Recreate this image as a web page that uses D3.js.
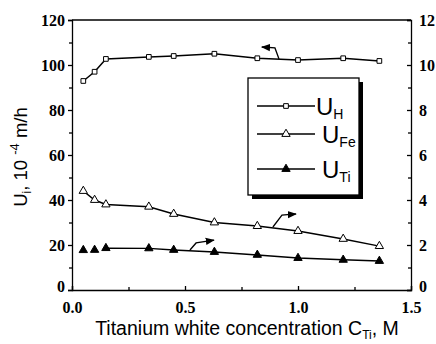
<!DOCTYPE html>
<html><head><meta charset="utf-8">
<script src="https://cdn.jsdelivr.net/npm/d3@7"></script>
<style>body{margin:0;background:#fff}svg{display:block}</style>
</head><body>
<script>
const conc = [0.05, 0.10, 0.15, 0.34, 0.45, 0.63, 0.82, 1.00, 1.20, 1.36];
const uH  = [92.9, 97, 102.7, 103.6, 104, 105, 103, 102.2, 103, 101.8];
const uFe = [44, 40, 38, 37, 33.8, 30, 28.4, 26.2, 22.7, 19.5];
const uTi = [17.7, 17.8, 18.6, 18.5, 17.8, 16.9, 15.6, 14.2, 13.4, 12.9];
const xTicks = [0, 0.5, 1.0, 1.5];
const yTicks = [0, 20, 40, 60, 80, 100, 120];
const y2Ticks = [0, 2, 4, 6, 8, 10, 12];
// annotation arrows (data coords: base, elbow, tip)
const arrowH  = [[0.916, 102.7], [0.898, 107.6], [0.84, 108]];
const arrowFe = [[0.889, 28], [0.929, 33.3], [0.991, 33.8]];
const arrowTi = [[0.522, 17.8], [0.549, 20.9], [0.628, 22.2]];

const W = 436, H = 344;
const m = {l: 72, r: 25, t: 20, b: 54};
const svg = d3.select("body").append("svg").attr("width", W).attr("height", H);
const x = d3.scaleLinear().domain([0, 1.5]).range([m.l, W - m.r]);
const y = d3.scaleLinear().domain([0, 120]).range([H - m.b, m.t]);
const y2 = d3.scaleLinear().domain([0, 12]).range([H - m.b, m.t]);

svg.append("defs").append("marker").attr("id", "ah").attr("viewBox", "0 0 10 10")
  .attr("refX", 9).attr("refY", 5).attr("markerWidth", 7).attr("markerHeight", 7)
  .attr("orient", "auto").append("path").attr("d", "M0,1L10,5L0,9z").attr("fill", "#000");

const tickFont = g => g.selectAll("text").attr("font-family", "'Liberation Serif','Times New Roman',serif")
  .attr("font-weight", "bold").attr("font-size", 16).attr("fill", "#000");
const stroke = g => { g.selectAll("line,path").attr("stroke", "#000").attr("stroke-width", 1.3); };

// minor ticks
const xMinor = d3.range(0.25, 1.5, 0.5);
const yMinor = d3.range(10, 120, 20);
const y2Minor = d3.range(1, 12, 2);

// bottom axis
const gx = svg.append("g").attr("transform", `translate(0,${H - m.b})`)
  .call(d3.axisBottom(x).tickValues(xTicks).tickFormat(d3.format(".1f")).tickSize(-4).tickPadding(12));
gx.call(tickFont).call(stroke);
svg.append("g").attr("transform", `translate(0,${H - m.b})`)
  .call(d3.axisBottom(x).tickValues(xMinor).tickFormat("").tickSize(-3)).call(stroke).select(".domain").remove();

// left axis
const gy = svg.append("g").attr("transform", `translate(${m.l},0)`)
  .call(d3.axisLeft(y).tickValues(yTicks).tickSize(4).tickPadding(3));
gy.call(tickFont).call(stroke);
gy.selectAll(".tick").filter(d => d === 0).select("text").attr("dy", "0.1em");
svg.append("g").attr("transform", `translate(${m.l},0)`)
  .call(d3.axisLeft(y).tickValues(yMinor).tickFormat("").tickSize(3)).call(stroke).select(".domain").remove();

// right axis
const gy2 = svg.append("g").attr("transform", `translate(${W - m.r},0)`)
  .call(d3.axisRight(y2).tickValues(y2Ticks).tickSize(-4).tickPadding(8));
gy2.call(tickFont).call(stroke);
gy2.selectAll(".tick").filter(d => d === 0).select("text").attr("dy", "0.1em");
svg.append("g").attr("transform", `translate(${W - m.r},0)`)
  .call(d3.axisRight(y2).tickValues(y2Minor).tickFormat("").tickSize(-3)).call(stroke).select(".domain").remove();

// top line
svg.append("line").attr("x1", m.l).attr("x2", W - m.r).attr("y1", m.t).attr("y2", m.t)
  .attr("stroke", "#000").attr("stroke-width", 1.3);

const line = d3.line().x(d => x(d[0])).y(d => y(d[1]));
const pts = vals => conc.map((c, i) => [c, vals[i]]);

// lines
svg.append("path").datum(pts(uH)).attr("d", line).attr("fill", "none").attr("stroke", "#000").attr("stroke-width", 1.5);
svg.append("path").datum(pts(uFe)).attr("d", line).attr("fill", "none").attr("stroke", "#000").attr("stroke-width", 1.5);
svg.append("path").datum(pts(uTi).slice(2)).attr("d", line).attr("fill", "none").attr("stroke", "#000").attr("stroke-width", 1.5);

const sq = d3.symbol().type(d3.symbolSquare).size(22);
const tri = d3.symbol().type(d3.symbolTriangle).size(30);
svg.selectAll(".mh").data(pts(uH)).join("path").attr("d", sq)
  .attr("transform", d => `translate(${x(d[0])},${y(d[1])})`).attr("fill", "#fff").attr("stroke", "#000").attr("stroke-width", 1);
svg.selectAll(".mfe").data(pts(uFe)).join("path").attr("d", tri)
  .attr("transform", d => `translate(${x(d[0])},${y(d[1])})`).attr("fill", "#fff").attr("stroke", "#000").attr("stroke-width", 1);
svg.selectAll(".mti").data(pts(uTi)).join("path").attr("d", tri)
  .attr("transform", d => `translate(${x(d[0])},${y(d[1])})`).attr("fill", "#000").attr("stroke", "#000").attr("stroke-width", 1);

// arrows
[arrowH, arrowFe, arrowTi].forEach(a => {
  svg.append("path").attr("d", d3.line().x(d => x(d[0])).y(d => y(d[1]))(a))
    .attr("fill", "none").attr("stroke", "#000").attr("stroke-width", 1.3).attr("marker-end", "url(#ah)");
});

// legend
const lg = svg.append("g");
lg.append("rect").attr("x", 252).attr("y", 82).attr("width", 111).attr("height", 117).attr("fill", "#000");
lg.append("rect").attr("x", 248).attr("y", 78).attr("width", 111).attr("height", 117).attr("fill", "#fff").attr("stroke", "#000").attr("stroke-width", 1.3);
const legItems = [
  {sym: sq, fill: "#fff", sub: "H", yy: 106, tx: 316},
  {sym: tri, fill: "#fff", sub: "Fe", yy: 134, tx: 322},
  {sym: tri, fill: "#000", sub: "Ti", yy: 169, tx: 322}
];
legItems.forEach(it => {
  lg.append("line").attr("x1", 257).attr("x2", 315).attr("y1", it.yy).attr("y2", it.yy).attr("stroke", "#000").attr("stroke-width", 1.4);
  lg.append("path").attr("d", it.sym).attr("transform", `translate(286,${it.yy})`).attr("fill", it.fill).attr("stroke", "#000");
  const t = lg.append("text").attr("x", it.tx).attr("y", it.yy + 9).attr("font-family", "'Liberation Sans',Arial,sans-serif").attr("font-size", 24).attr("fill", "#000");
  t.append("tspan").text("U");
  t.append("tspan").attr("font-size", 14).attr("dy", 4).text(it.sub);
});

// axis titles
const xt = svg.append("text").attr("x", 247).attr("y", 335).attr("text-anchor", "middle")
  .attr("font-family", "'Liberation Sans',Arial,sans-serif").attr("font-size", 19.5).attr("fill", "#000");
xt.append("tspan").text("Titanium white concentration C");
xt.append("tspan").attr("font-size", 12).attr("dy", 4).text("Ti");
xt.append("tspan").attr("dy", -4).text(", M");

const yt = svg.append("text").attr("transform", "translate(27,157) rotate(-90)").attr("text-anchor", "middle")
  .attr("font-family", "'Liberation Sans',Arial,sans-serif").attr("font-size", 18.5).attr("fill", "#000");
yt.append("tspan").text("U");
yt.append("tspan").attr("font-size", 12).attr("dy", 4).text("i");
yt.append("tspan").attr("dy", -4).text(", 10 ");
yt.append("tspan").attr("font-size", 13).attr("dy", -8).text("-4");
yt.append("tspan").attr("dy", 8).text(" m/h");
</script>
</body></html>
